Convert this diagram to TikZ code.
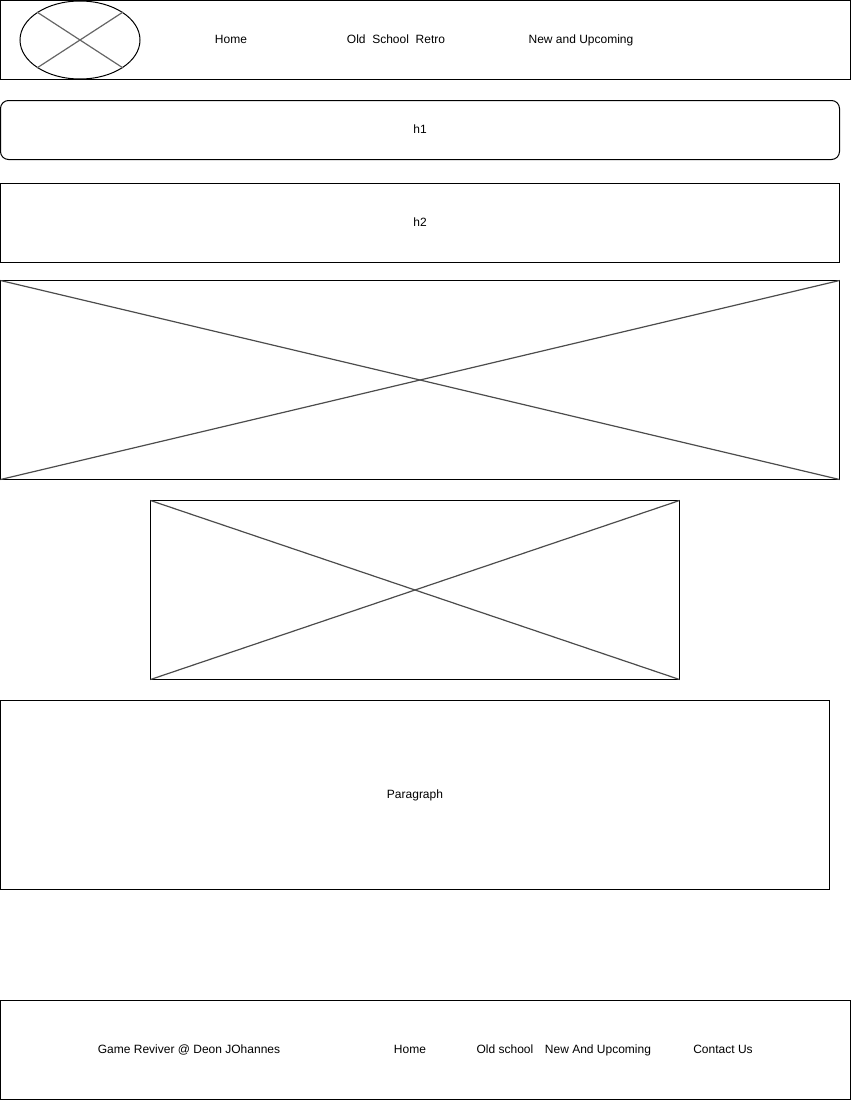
\documentclass[tikz,border=0pt]{standalone}
\usepackage{fontspec}
\setmainfont{Liberation Sans}
\usetikzlibrary{shapes.geometric}
\begin{document}
\begin{tikzpicture}[x=1pt,y=-1pt,font=\fontsize{12}{14}\selectfont,
    box/.style={draw,line width=1pt,anchor=north west,inner sep=0pt,outer sep=0pt},
    cross/.style={draw=black!70,line width=1.2pt},
    label/.style={inner sep=0pt,text height=8.6pt,text depth=2.6pt}]
    \useasboundingbox (0,0) rectangle (852,1101);

    % header
    \node[box,minimum width=850pt,minimum height=79pt] (header) at (0.5,0.5) {};
    \node[draw,ellipse,line width=1pt,minimum width=120pt,minimum height=78pt,inner sep=0pt] (logo) at (80,40) {};
    \draw[cross,draw=black!60] (logo.147) -- (logo.-33);
    \draw[cross,draw=black!60] (logo.33) -- (logo.-147);
    \node[label] (home) at (231,40) {Home};
    \node[label] (retro) at (396,40) {Old\ \ School\ \ Retro};
    \node[label] (upcoming) at (581,40) {New and Upcoming};

    % headings
    \node[box,rounded corners=8pt,minimum width=839pt,minimum height=59pt] (hone) at (0.5,100.5) {};
    \node[label] at (hone.center) {h1};
    \node[box,minimum width=839pt,minimum height=79pt] (htwo) at (0.5,183.5) {};
    \node[label] at (htwo.center) {h2};

    % images
    \node[box,minimum width=839pt,minimum height=199pt] (banner) at (0.5,280.5) {};
    \draw[cross] (banner.north west) -- (banner.south east);
    \draw[cross] (banner.north east) -- (banner.south west);
    \node[box,minimum width=529pt,minimum height=179pt] (picture) at (150.5,500.5) {};
    \draw[cross] (picture.north west) -- (picture.south east);
    \draw[cross] (picture.north east) -- (picture.south west);

    % paragraph
    \node[box,minimum width=829pt,minimum height=189pt] (para) at (0.5,700.5) {};
    \node[label] at (para.center) {Paragraph};

    % footer
    \node[box,minimum width=850pt,minimum height=99pt] (footer) at (0.5,1000.5) {};
    \node[label] (credit) at (189,1050) {Game Reviver @ Deon JOhannes};
    \node[label] (fhome) at (410,1050) {Home};
    \node[label] (fold) at (505,1050) {Old school};
    \node[label] (fnew) at (598,1050) {New And Upcoming};
    \node[label] (contact) at (723,1050) {Contact Us};
\end{tikzpicture}
\end{document}
